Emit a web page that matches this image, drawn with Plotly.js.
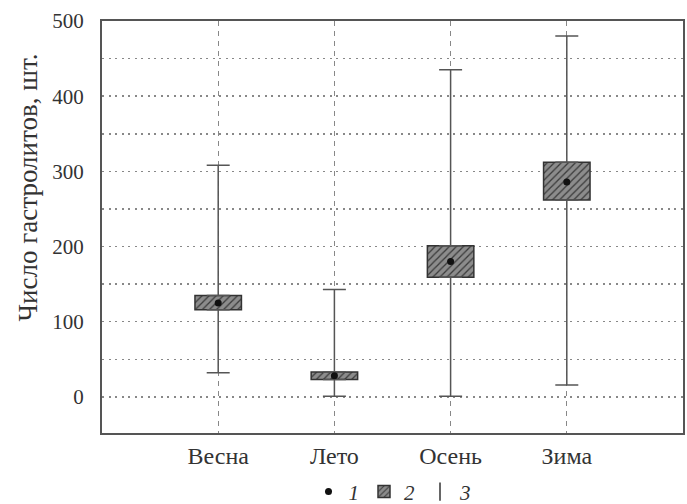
<!DOCTYPE html>
<html><head><meta charset="utf-8">
<script src="https://cdn.plot.ly/plotly-3.0.1.min.js"></script>
<style>body{margin:0;background:#fff}#c{width:687px;height:504px}</style>
</head><body><div id="c"></div>
<script>
var seasons = ["Весна", "Лето", "Осень", "Зима"];
var meanVals = [125, 28, 180, 286];
var boxLow = [116, 23, 159, 262];
var boxHigh = [135, 33, 201, 312];
var whiskerMin = [32, 1, 1, 16];
var whiskerMax = [308, 143, 435, 480];
var legendNames = ["1", "2", "3"];

var gray = "#555";
var serif = "Liberation Serif, Times New Roman, serif";

var upPlus = boxHigh.map(function(h, i){ return whiskerMax[i] - h; });
var downMinus = boxLow.map(function(l, i){ return l - whiskerMin[i]; });
var boxSpan = boxHigh.map(function(h, i){ return h - boxLow[i]; });

var traces = [
  {type:"scatter", mode:"markers", x:seasons, y:boxHigh, marker:{size:1, color:"rgba(0,0,0,0)"},
   error_y:{type:"data", symmetric:false, array:upPlus, arrayminus:[0,0,0,0], width:11.5, thickness:1.5, color:gray},
   showlegend:false, hoverinfo:"skip"},
  {type:"scatter", mode:"markers", x:seasons, y:boxLow, marker:{size:1, color:"rgba(0,0,0,0)"},
   error_y:{type:"data", symmetric:false, array:[0,0,0,0], arrayminus:downMinus, width:11.5, thickness:1.5, color:gray},
   showlegend:false, hoverinfo:"skip"},
  {type:"bar", x:seasons, y:boxSpan, base:boxLow, width:0.4, name:"<i>"+legendNames[1]+"</i>",
   marker:{color:"#8c8c8c", line:{color:"#333", width:1.5},
     pattern:{shape:"/", fgcolor:"#3a3a3a", bgcolor:"#8c8c8c", size:5, solidity:0.25}},
   legendrank:2},
  {type:"scatter", mode:"markers", x:seasons, y:meanVals, name:"<i>"+legendNames[0]+"</i>",
   marker:{size:7, color:"#111"}, legendrank:1},
  {type:"scatter", mode:"markers", x:[null], y:[null], name:"<i>"+legendNames[2]+"</i>",
   marker:{symbol:"line-ns-open", size:13, color:"#333", line:{width:1.5, color:"#333"}}, legendrank:3}
];

var layout = {
  width:687, height:504,
  margin:{l:102, r:4, t:21, b:71, autoexpand:false},
  paper_bgcolor:"#fff", plot_bgcolor:"#fff",
  font:{family:serif, color:"#333", size:20},
  showlegend:true,
  legend:{orientation:"h", x:0.5, xanchor:"center", y:-0.143, yanchor:"middle",
    font:{family:serif, size:21, color:"#333"}, itemwidth:30, tracegroupgap:0, traceorder:"normal"},
  barmode:"overlay",
  xaxis:{type:"category", range:[-1, 4], showline:true, mirror:true, linecolor:"#555", linewidth:2,
    showgrid:true, gridcolor:"#888", griddash:"5px,5px", gridwidth:1, ticks:"", zeroline:false,
    tickfont:{family:serif, size:24, color:"#333"}, ticklabelstandoff:0},
  yaxis:{range:[-48, 500], tickvals:[0,100,200,300,400,500], showline:true, mirror:true,
    linecolor:"#555", linewidth:2, showgrid:true, gridcolor:"#888", griddash:"2px,4.5px", gridwidth:1.5,
    minor:{dtick:50, tick0:0, showgrid:true, gridcolor:"#888", griddash:"2px,4.5px", gridwidth:1.5},
    zeroline:false, ticks:"", tickfont:{family:serif, size:21, color:"#333"}, ticklabelstandoff:12},
  annotations:[{text:"Число гастролитов, шт.", textangle:-90, xref:"paper", yref:"paper",
    x:-0.128, y:0.595, xanchor:"center", yanchor:"middle", showarrow:false,
    font:{family:serif, size:27, color:"#333"}}]
};
Plotly.newPlot("c", traces, layout, {displayModeBar:false, staticPlot:true});
</script></body></html>
